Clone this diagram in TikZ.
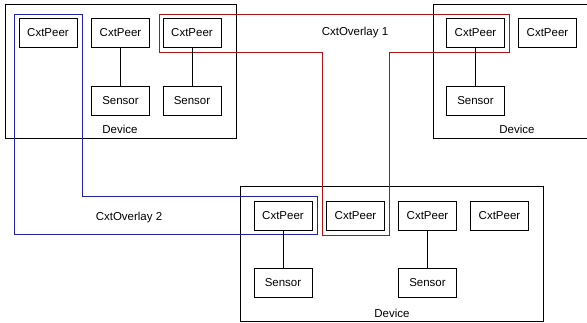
\documentclass[tikz,border=0pt]{standalone}
\usepackage{fontspec}
\setmainfont{Liberation Sans}
\definecolor{ovlred}{RGB}{175,20,20}
\definecolor{ovlblue}{RGB}{35,35,170}

\begin{document}
\begin{tikzpicture}[x=1pt,y=-1pt,line width=0.9pt,
    font=\fontsize{11.5}{13}\selectfont,
    peer/.style={draw,fill=white,minimum width=58pt,minimum height=29pt,inner sep=0pt},
    devlabel/.style={anchor=base}]
      \useasboundingbox (0,0) rectangle (587,322);
      % devices
      \draw (5,4) rectangle (236,138);
      \node[devlabel] (dev1) at (120,133) {Device};
      \draw (433,4) rectangle (601,138);
      \node[devlabel] (dev2) at (517,133) {Device};
      \draw (240,186) rectangle (543,321);
      \node[devlabel] (dev3) at (392,317) {Device};
      % overlays
      \draw[ovlblue] (14,14) -- (82,14) -- (82,196) -- (317,196) -- (317,234) -- %
      (14,234) -- cycle;
      \node (ovl2) at (129,218) {CxtOverlay 2};
      \draw[ovlred] (159,14) -- (509,14) -- (509,52) -- (389,52) -- (389,235) -- %
      (322,235) -- (322,52) -- (159,52) -- cycle;
      \node (ovl1) at (355,33) {CxtOverlay 1};
      % peers and sensors
      \node[peer] (p11) at (48,32.5) {CxtPeer};
      \node[peer] (p12) at (120.5,32.5) {CxtPeer};
      \node[peer] (p13) at (192,32.5) {CxtPeer};
      \node[peer] (s12) at (120.5,100.5) {Sensor};
      \node[peer] (s13) at (192,100.5) {Sensor};
      \node[peer] (p21) at (475.5,32.5) {CxtPeer};
      \node[peer] (p22) at (547.5,32.5) {CxtPeer};
      \node[peer] (s21) at (475.5,100.5) {Sensor};
      \node[peer] (p31) at (283,216) {CxtPeer};
      \node[peer] (p32) at (355.5,216) {CxtPeer};
      \node[peer] (p33) at (427.5,216) {CxtPeer};
      \node[peer] (p34) at (499.5,216) {CxtPeer};
      \node[peer] (s31) at (283,282.5) {Sensor};
      \node[peer] (s33) at (427.5,282.5) {Sensor};
      \draw (p12) -- (s12);
      \draw (p13) -- (s13);
      \draw (p21) -- (s21);
      \draw (p31) -- (s31);
      \draw (p33) -- (s33);
    \end{tikzpicture}
\end{document}
